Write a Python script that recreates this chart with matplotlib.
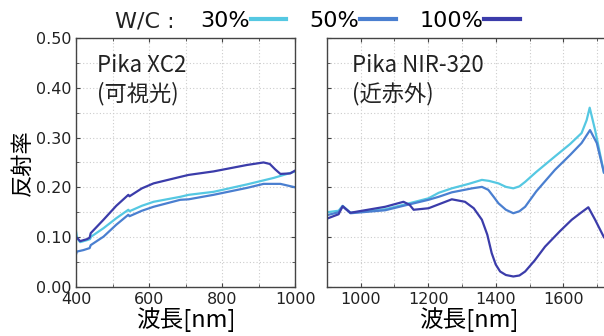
import matplotlib
matplotlib.use("Agg")
import matplotlib.pyplot as plt
from matplotlib.ticker import MultipleLocator, FormatStrFormatter
from matplotlib.lines import Line2D

plt.rcParams['font.family'] = ['DejaVu Sans', 'Noto Sans CJK JP']

# ---- data ----
series_names = ["30%", "50%", "100%"]
colors = ["#55c8e2", "#4a7fd0", "#3b3caa"]

# Left panel (visible, Pika XC2)
vis_wl_30 = [400, 403, 411, 430, 438, 441, 475, 510, 543, 546, 580, 612, 685, 708, 776, 868, 941, 1000]
vis_30 = [0.111, 0.098, 0.090, 0.094, 0.096, 0.101, 0.118, 0.138, 0.155, 0.152, 0.163, 0.171, 0.181, 0.185, 0.191, 0.206, 0.219, 0.232]
vis_wl_50 = [400, 402, 420, 437, 440, 475, 510, 543, 546, 580, 612, 685, 708, 776, 868, 913, 959, 1000]
vis_50 = [0.066, 0.071, 0.074, 0.078, 0.084, 0.101, 0.125, 0.145, 0.142, 0.153, 0.161, 0.175, 0.176, 0.185, 0.199, 0.207, 0.207, 0.200]
vis_wl_100 = [400, 402, 411, 430, 437, 440, 475, 510, 543, 546, 580, 612, 685, 708, 776, 868, 913, 930, 945, 959, 986, 1000]
vis_100 = [0.098, 0.099, 0.092, 0.096, 0.099, 0.108, 0.135, 0.163, 0.185, 0.182, 0.198, 0.208, 0.221, 0.225, 0.232, 0.245, 0.250, 0.247, 0.236, 0.227, 0.228, 0.234]

# Right panel (NIR, Pika NIR-320)
nir_wl_30 = [900, 935, 947, 970, 1073, 1127, 1201, 1231, 1270, 1320, 1359, 1380, 1408, 1430, 1452, 1470, 1487, 1520, 1575, 1620, 1654, 1669, 1678, 1694, 1720]
nir_30 = [0.150, 0.153, 0.163, 0.149, 0.156, 0.165, 0.178, 0.189, 0.198, 0.207, 0.215, 0.213, 0.208, 0.201, 0.198, 0.202, 0.211, 0.231, 0.262, 0.287, 0.309, 0.335, 0.360, 0.315, 0.230]
nir_wl_50 = [900, 935, 947, 970, 1073, 1127, 1201, 1231, 1270, 1330, 1359, 1378, 1395, 1408, 1430, 1452, 1470, 1487, 1520, 1575, 1620, 1654, 1679, 1699, 1720]
nir_50 = [0.144, 0.150, 0.162, 0.148, 0.154, 0.163, 0.175, 0.181, 0.190, 0.198, 0.201, 0.195, 0.180, 0.168, 0.155, 0.148, 0.152, 0.161, 0.192, 0.235, 0.265, 0.289, 0.315, 0.289, 0.230]
nir_wl_100 = [900, 935, 947, 970, 1073, 1127, 1145, 1157, 1201, 1270, 1309, 1335, 1359, 1375, 1388, 1400, 1413, 1430, 1452, 1470, 1487, 1515, 1546, 1590, 1625, 1650, 1674, 1694, 1720]
nir_100 = [0.137, 0.146, 0.162, 0.149, 0.161, 0.171, 0.165, 0.155, 0.158, 0.176, 0.171, 0.158, 0.135, 0.105, 0.068, 0.045, 0.031, 0.024, 0.021, 0.023, 0.031, 0.053, 0.081, 0.112, 0.135, 0.148, 0.160, 0.135, 0.100]

panel_titles = ["Pika XC2\n(可視光)", "Pika NIR-320\n(近赤外)"]
xlabel = "波長[nm]"
ylabel = "反射率"

# ---- figure ----
fig = plt.figure(figsize=(6.04, 3.36), dpi=100)
axL = fig.add_axes([0.126, 0.146, 0.363, 0.741])
axR = fig.add_axes([0.541, 0.146, 0.47, 0.741])

for ax, wls, vals in [
    (axL, [vis_wl_30, vis_wl_50, vis_wl_100], [vis_30, vis_50, vis_100]),
    (axR, [nir_wl_30, nir_wl_50, nir_wl_100], [nir_30, nir_50, nir_100]),
]:
    for wl, v, c, n in zip(wls, vals, colors, series_names):
        ax.plot(wl, v, color=c, lw=1.6, label=n, solid_joinstyle='round')
    ax.set_ylim(0, 0.5)
    ax.yaxis.set_major_locator(MultipleLocator(0.1))
    ax.yaxis.set_minor_locator(MultipleLocator(0.05))
    ax.xaxis.set_minor_locator(MultipleLocator(100))
    ax.grid(True, which='both', ls=(0, (1, 2)), color='#cccccc', lw=0.8)
    ax.tick_params(which='both', direction='in', top=True, right=True, colors='#444444',
                   labelcolor='#222222', labelsize=11.5, length=3)
    ax.tick_params(which='minor', length=2)
    for s in ax.spines.values():
        s.set_color('#444444')
        s.set_linewidth(1.0)
    ax.set_xlabel(xlabel, fontsize=17, labelpad=0.5, family=['Noto Sans CJK JP'])

axL.set_xlim(400, 1000)
axL.xaxis.set_major_locator(MultipleLocator(200))
axL.yaxis.set_major_formatter(FormatStrFormatter('%.2f'))
axL.set_ylabel(ylabel, fontsize=16, family=['Noto Sans CJK JP'], labelpad=1)

axR.set_xlim(900, 1740)
axR.set_xticks([1000, 1200, 1400, 1600])
axR.tick_params(labelleft=False)

axL.text(0.095, 0.935, panel_titles[0], transform=axL.transAxes, va='top', ha='left',
         fontsize=16, family=['Noto Sans CJK JP'], linespacing=1.25, color='#222222')
axR.text(0.09, 0.935, panel_titles[1], transform=axR.transAxes, va='top', ha='left',
         fontsize=16, family=['Noto Sans CJK JP'], linespacing=1.25, color='#222222')

# legend
handles = [Line2D([], [], color=c, lw=3) for c in colors]
fig.text(0.19, 0.937, "W/C :", fontsize=16, ha='left', va='center', color='#222222',
         family=['DejaVu Sans'])
fig.legend(handles, series_names, loc='center left', bbox_to_anchor=(0.331, 0.937),
           ncol=3, frameon=False, markerfirst=False, fontsize=16, handlelength=1.6,
           handletextpad=0.05, columnspacing=1.05, borderaxespad=0, borderpad=0)

fig.savefig("out.png", dpi=100)
